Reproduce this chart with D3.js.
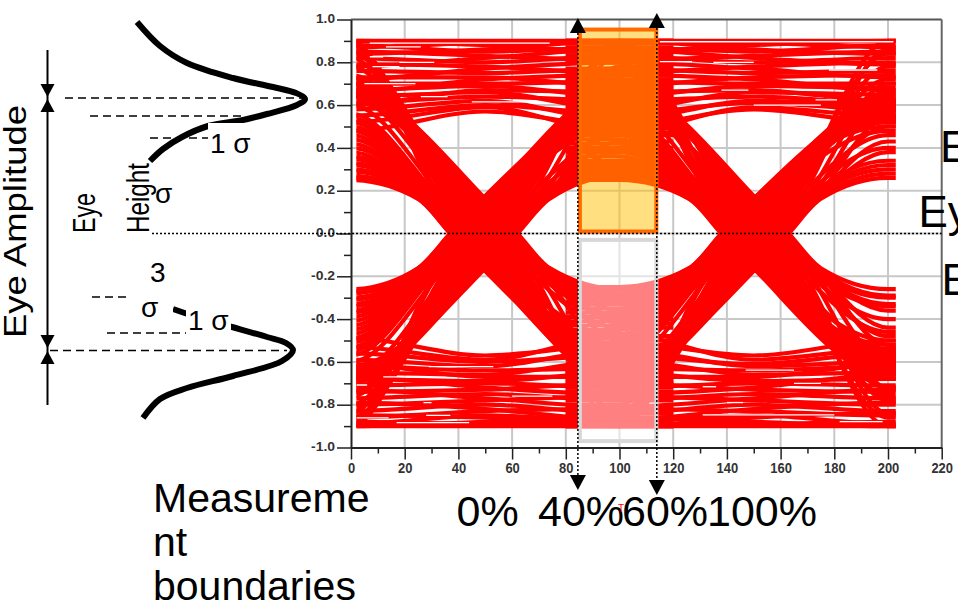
<!DOCTYPE html>
<html>
<head>
<meta charset="utf-8">
<script src="https://cdn.jsdelivr.net/npm/d3@7/dist/d3.min.js"></script>
<style>
  html, body { margin: 0; padding: 0; background: #ffffff; }
  svg { display: block; }
  text { font-family: "Liberation Sans", Arial, sans-serif; }
</style>
</head>
<body>
<svg id="chart" width="958" height="613"></svg>
<script>
// ---------- axis values ----------
const xMajorTicks = [0, 20, 40, 60, 80, 100, 120, 140, 160, 180, 200, 220];
const xMinorTicks = [10, 30, 50, 70, 90, 110, 130, 150, 170, 190, 210];
const yMajorTicks = [-1.0, -0.8, -0.6, -0.4, -0.2, 0.0, 0.2, 0.4, 0.6, 0.8, 1.0];
const yMinorTicks = [-0.9, -0.7, -0.5, -0.3, -0.1, 0.1, 0.3, 0.5, 0.7, 0.9];
const xGrid = [20, 40, 60, 80, 100, 120, 140, 160, 180, 200];
const yGrid = [-0.8, -0.6, -0.4, -0.2, 0.0, 0.2, 0.4, 0.6, 0.8];

// time window covered by the folded traces
const traceSpan = [2, 202.9];

// measurement window (40% .. 60% of the unit interval)
const measureBounds = [84.5, 113.9];
const upperBoxLevels = [0.0, 0.953];
const lowerBoxLevels = [-0.03, -0.97];

// ---------- eye traces ----------
// Bit centres sit at t = 0, 100, 200. Each edge segment runs from one bit centre to the next.
// Every edge passes zero with the same slew: edgeRate amplitude units per time unit,
// held for edgeHalf time units either side of the crossing.
const edgeRate = 0.0135;
const edgeHalf = 12;
// Transitions: [level at start bit, zero-crossing time, level at end bit]
const fallA = [
  [0.25, 37, -0.62], [0.26, 37, -0.56], [0.27, 38, -0.58], [0.29, 38, -0.64],
  [0.30, 38, -0.68], [0.32, 39, -0.70], [0.33, 39, -0.60], [0.35, 39, -0.54],
  [0.36, 40, -0.66], [0.38, 40, -0.62], [0.40, 41, -0.56], [0.42, 41, -0.68],
  [0.44, 42, -0.64], [0.46, 42, -0.58], [0.48, 43, -0.52], [0.50, 43, -0.66],
  [0.52, 44, -0.62], [0.54, 44, -0.56], [0.56, 45, -0.48], [0.90, 45, -0.60],
  [0.86, 46, -0.66], [0.60, 47, -0.70], [0.82, 48, -0.56], [0.88, 49, -0.74],
  [0.64, 50, -0.84], [0.78, 51, -0.90], [0.70, 52, -0.76], [0.84, 53, -0.44],
  [0.66, 54, -0.86], [0.74, 55, -0.38], [0.62, 56, -0.70], [0.72, 57, -0.33],
  [0.64, 58, -0.58], [0.70, 59, -0.29], [0.66, 60, -0.50], [0.64, 61, -0.36],
  [0.66, 62, -0.26], [0.68, 60, -0.42], [0.65, 59, -0.31], [0.69, 57, -0.40],
  [0.67, 61, -0.28]
];
const riseA = [
  [-0.26, 37, 0.60], [-0.27, 37, 0.56], [-0.28, 38, 0.64], [-0.30, 38, 0.62],
  [-0.31, 38, 0.56], [-0.33, 39, 0.68], [-0.34, 39, 0.66], [-0.36, 39, 0.54],
  [-0.37, 40, 0.58], [-0.39, 40, 0.60], [-0.41, 41, 0.62], [-0.43, 41, 0.66],
  [-0.45, 42, 0.54], [-0.47, 42, 0.56], [-0.49, 43, 0.66], [-0.51, 43, 0.64],
  [-0.53, 44, 0.50], [-0.55, 44, 0.55], [-0.57, 45, 0.60], [-0.88, 45, 0.56],
  [-0.84, 46, 0.64], [-0.60, 47, 0.68], [-0.90, 48, 0.58], [-0.80, 49, 0.72],
  [-0.66, 50, 0.86], [-0.76, 51, 0.90], [-0.86, 52, 0.78], [-0.70, 53, 0.46],
  [-0.82, 54, 0.84], [-0.68, 55, 0.40], [-0.74, 56, 0.70], [-0.64, 57, 0.34],
  [-0.72, 58, 0.60], [-0.66, 59, 0.30], [-0.62, 60, 0.52], [-0.68, 61, 0.38],
  [-0.64, 62, 0.27], [-0.67, 60, 0.43], [-0.65, 59, 0.32], [-0.70, 57, 0.49],
  [-0.63, 61, 0.29]
];
const fallB = [
  [0.25, 138, -0.60], [0.26, 138, -0.66], [0.28, 139, -0.64], [0.30, 139, -0.58],
  [0.31, 139, -0.56], [0.33, 140, -0.62], [0.34, 140, -0.66], [0.36, 140, -0.52],
  [0.38, 141, -0.58], [0.40, 141, -0.68], [0.42, 142, -0.62], [0.44, 142, -0.56],
  [0.46, 143, -0.54], [0.48, 143, -0.64], [0.50, 144, -0.64], [0.52, 144, -0.58],
  [0.54, 145, -0.50], [0.56, 145, -0.62], [0.58, 146, -0.60], [0.89, 146, -0.58],
  [0.85, 147, -0.68], [0.62, 148, -0.72], [0.80, 149, -0.54], [0.90, 150, -0.76],
  [0.66, 151, -0.86], [0.76, 152, -0.90], [0.72, 153, -0.78], [0.86, 154, -0.46],
  [0.64, 155, -0.84], [0.76, 156, -0.40], [0.60, 157, -0.72], [0.70, 158, -0.34],
  [0.66, 159, -0.60], [0.72, 160, -0.30], [0.64, 161, -0.52], [0.66, 162, -0.36],
  [0.68, 163, -0.26], [0.67, 161, -0.44], [0.65, 160, -0.33], [0.70, 158, -0.48],
  [0.66, 162, -0.29]
];
const riseB = [
  [-0.25, 138, 0.52], [-0.26, 138, 0.58], [-0.28, 139, 0.56], [-0.29, 139, 0.60],
  [-0.30, 139, 0.50], [-0.32, 140, 0.54], [-0.33, 140, 0.58], [-0.35, 140, 0.62],
  [-0.37, 141, 0.54], [-0.39, 141, 0.57], [-0.41, 142, 0.60], [-0.43, 142, 0.64],
  [-0.45, 143, 0.52], [-0.47, 143, 0.58], [-0.49, 144, 0.62], [-0.51, 144, 0.55],
  [-0.53, 145, 0.48], [-0.55, 145, 0.60], [-0.57, 146, 0.58], [-0.89, 146, 0.55],
  [-0.85, 147, 0.63], [-0.61, 148, 0.66], [-0.90, 149, 0.60], [-0.80, 150, 0.72],
  [-0.66, 151, 0.84], [-0.76, 152, 0.90], [-0.86, 153, 0.78], [-0.70, 154, 0.46],
  [-0.82, 155, 0.86], [-0.68, 156, 0.40], [-0.74, 157, 0.70], [-0.64, 158, 0.34],
  [-0.72, 159, 0.62], [-0.66, 160, 0.30], [-0.62, 161, 0.54], [-0.68, 162, 0.38],
  [-0.64, 163, 0.26], [-0.66, 161, 0.43], [-0.64, 160, 0.32], [-0.69, 158, 0.50],
  [-0.65, 162, 0.28]
];
// Steady bits: [level at start bit, level half-way, level at end bit]
const highA = [
  [0.48, 0.57, 0.50], [0.52, 0.59, 0.47], [0.55, 0.60, 0.56], [0.58, 0.62, 0.53],
  [0.61, 0.64, 0.62], [0.64, 0.66, 0.58], [0.60, 0.67, 0.66], [0.67, 0.69, 0.64],
  [0.70, 0.70, 0.71], [0.66, 0.72, 0.74], [0.73, 0.73, 0.69], [0.76, 0.75, 0.77],
  [0.72, 0.77, 0.80], [0.79, 0.78, 0.75], [0.82, 0.80, 0.83], [0.78, 0.82, 0.86],
  [0.85, 0.83, 0.81], [0.88, 0.85, 0.87], [0.84, 0.86, 0.90], [0.90, 0.88, 0.85],
  [0.87, 0.89, 0.89], [0.90, 0.90, 0.90]
];
const lowA = [
  [-0.49, -0.57, -0.52], [-0.53, -0.59, -0.48], [-0.56, -0.60, -0.57], [-0.59, -0.62, -0.54],
  [-0.62, -0.64, -0.63], [-0.65, -0.66, -0.59], [-0.61, -0.67, -0.67], [-0.68, -0.69, -0.65],
  [-0.71, -0.70, -0.72], [-0.67, -0.72, -0.75], [-0.74, -0.73, -0.70], [-0.77, -0.75, -0.78],
  [-0.73, -0.77, -0.81], [-0.80, -0.78, -0.76], [-0.83, -0.80, -0.84], [-0.79, -0.82, -0.87],
  [-0.86, -0.83, -0.82], [-0.89, -0.85, -0.88], [-0.85, -0.86, -0.90], [-0.90, -0.88, -0.86],
  [-0.88, -0.89, -0.89], [-0.90, -0.90, -0.90]
];
const highB = [
  [0.50, 0.58, 0.52], [0.47, 0.59, 0.55], [0.56, 0.61, 0.58], [0.53, 0.62, 0.60],
  [0.62, 0.64, 0.61], [0.58, 0.66, 0.65], [0.66, 0.67, 0.62], [0.64, 0.69, 0.68],
  [0.71, 0.70, 0.70], [0.74, 0.72, 0.67], [0.69, 0.73, 0.74], [0.77, 0.75, 0.76],
  [0.80, 0.77, 0.73], [0.75, 0.78, 0.80], [0.83, 0.80, 0.82], [0.86, 0.82, 0.79],
  [0.81, 0.83, 0.85], [0.87, 0.85, 0.88], [0.90, 0.86, 0.84], [0.85, 0.88, 0.90],
  [0.89, 0.89, 0.87], [0.90, 0.90, 0.90]
];
const lowB = [
  [-0.51, -0.57, -0.50], [-0.47, -0.59, -0.54], [-0.57, -0.61, -0.56], [-0.54, -0.62, -0.60],
  [-0.63, -0.64, -0.62], [-0.59, -0.66, -0.65], [-0.67, -0.67, -0.61], [-0.65, -0.69, -0.68],
  [-0.72, -0.70, -0.71], [-0.75, -0.72, -0.66], [-0.70, -0.73, -0.74], [-0.78, -0.75, -0.77],
  [-0.81, -0.77, -0.73], [-0.76, -0.78, -0.80], [-0.84, -0.80, -0.83], [-0.87, -0.82, -0.79],
  [-0.82, -0.83, -0.85], [-0.88, -0.85, -0.89], [-0.90, -0.86, -0.84], [-0.86, -0.88, -0.90],
  [-0.89, -0.89, -0.88], [-0.90, -0.90, -0.90]
];
// Unhit sample rows inside the settled levels: [from t, to t, level]
const levelGaps = [
  [7, 74, 0.89], [13, 26, 0.872], [7, 12, 0.826], [18, 31, 0.80], [8, 18, 0.78],
  [5, 24, 0.70], [26, 36, 0.64], [45, 70, 0.615], [115, 202, 0.896], [115, 127, 0.803],
  [135, 150, 0.80], [178, 196, 0.764], [138, 148, 0.67], [173, 181, 0.624], [150, 175, 0.60],
  [2, 6, -0.708], [12, 22, -0.67], [27, 30, -0.79], [28, 37, -0.85], [2, 14, -0.862],
  [17, 44, -0.884], [29, 53, -0.622], [131, 136, -0.716], [140, 146, -0.79],
  [131, 180, -0.848], [182, 198, -0.879], [147, 165, -0.638], [60, 75, -0.76], [165, 175, -0.70]
];

// ---------- annotation texts ----------
const percentLabels = ["0%", "40%", "60%", "100%"];
const boundaryLines = ["Measureme", "nt", "boundaries"];

// ---------- drawing ----------
const svg = d3.select("#chart");
const x = d3.scaleLinear().domain([0, 220]).range([351, 941.7]);
const y = d3.scaleLinear().domain([-1, 1]).range([447.5, 19.5]);

const defs = svg.append("defs");
defs.append("clipPath").attr("id", "traceClip")
  .append("rect")
  .attr("x", x(traceSpan[0])).attr("y", 0)
  .attr("width", x(traceSpan[1]) - x(traceSpan[0])).attr("height", 613);

// grid
const grid = svg.append("g").attr("stroke", "#c8c8c8").attr("stroke-width", 2);
grid.selectAll("line.vx").data(xGrid).join("line")
  .attr("x1", d => x(d)).attr("x2", d => x(d)).attr("y1", y(1)).attr("y2", y(-1));
grid.selectAll("line.hy").data(yGrid).join("line")
  .attr("x1", x(0)).attr("x2", x(220)).attr("y1", d => y(d)).attr("y2", d => y(d));

// traces
const line = d3.line().x(d => x(d[0])).y(d => y(d[1])).curve(d3.curveMonotoneX);
function edgeKnots(t0, e) {
  const dir = Math.sign(e[0]);          // +1 falling, -1 rising
  const v = edgeRate * edgeHalf * dir;
  return [[t0 - 20, e[0]], [t0, e[0]], [e[1] - edgeHalf, v], [e[1], 0],
          [e[1] + edgeHalf, -v], [t0 + 100, e[2]], [t0 + 120, e[2]]];
}
function steadyKnots(t0, s) {
  return [[t0 - 20, s[0]], [t0, s[0]], [t0 + 50, s[1]], [t0 + 100, s[2]], [t0 + 120, s[2]]];
}

const segments = [];
highA.forEach(s => segments.push(steadyKnots(0, s)));
lowA.forEach(s => segments.push(steadyKnots(0, s)));
highB.forEach(s => segments.push(steadyKnots(100, s)));
lowB.forEach(s => segments.push(steadyKnots(100, s)));
fallA.forEach(e => segments.push(edgeKnots(0, e)));
riseA.forEach(e => segments.push(edgeKnots(0, e)));
fallB.forEach(e => segments.push(edgeKnots(100, e)));
riseB.forEach(e => segments.push(edgeKnots(100, e)));

const traceLayer = svg.append("g").attr("clip-path", "url(#traceClip)");
traceLayer.selectAll("path").data(segments).join("path")
  .attr("d", line)
  .attr("fill", "none").attr("stroke", "#ff0000").attr("stroke-width", 4.2);
traceLayer.selectAll("line.gap").data(levelGaps).join("line")
  .attr("x1", d => x(d[0])).attr("x2", d => x(d[1]))
  .attr("y1", d => y(d[2])).attr("y2", d => y(d[2]))
  .attr("stroke", "#ffffff").attr("stroke-width", 1.3);

// measurement boxes
const bx0 = x(measureBounds[0]) + 2, bx1 = x(measureBounds[1]) - 0.5;
svg.append("rect")
  .attr("x", bx0).attr("y", y(upperBoxLevels[1]))
  .attr("width", bx1 - bx0).attr("height", y(upperBoxLevels[0]) - 2 - y(upperBoxLevels[1]))
  .attr("fill", "#ffc000").attr("fill-opacity", 0.5)
  .attr("stroke", "#ff6a00").attr("stroke-width", 4);
svg.append("rect")
  .attr("x", bx0).attr("y", y(lowerBoxLevels[0]))
  .attr("width", bx1 - bx0).attr("height", y(lowerBoxLevels[1]) - y(lowerBoxLevels[0]))
  .attr("fill", "#ffffff").attr("fill-opacity", 0.5)
  .attr("stroke", "#d8d8d8").attr("stroke-width", 4);

// frame
svg.append("line").attr("x1", x(0)).attr("x2", x(220)).attr("y1", y(1)).attr("y2", y(1))
  .attr("stroke", "#555").attr("stroke-width", 2);
svg.append("line").attr("x1", x(220)).attr("x2", x(220)).attr("y1", y(1)).attr("y2", y(-1))
  .attr("stroke", "#666").attr("stroke-width", 2);

// y axis
const yAxis = svg.append("g").attr("transform", `translate(${x(0)},0)`)
  .call(d3.axisLeft(y).tickValues(yMajorTicks).tickSize(14).tickSizeOuter(0)
    .tickFormat(d => d.toFixed(1)));
yAxis.select(".domain").attr("stroke", "#222").attr("stroke-width", 2);
yAxis.selectAll(".tick line").attr("stroke", "#222").attr("stroke-width", 1.5);
yAxis.selectAll(".tick text")
  .attr("x", -16).attr("dy", "0.25em")
  .attr("font-size", 12.5).attr("font-weight", "bold").attr("fill", "#333")
  .attr("font-family", "'Liberation Sans', Arial, sans-serif")
  .attr("textLength", d => d < 0 ? 24 : 19).attr("lengthAdjust", "spacingAndGlyphs");
svg.append("g").attr("transform", `translate(${x(0)},0)`)
  .call(d3.axisLeft(y).tickValues(yMinorTicks).tickSize(7).tickFormat(""))
  .call(g => g.select(".domain").remove())
  .selectAll(".tick line").attr("stroke", "#222").attr("stroke-width", 1.5);

// x axis
const xAxis = svg.append("g").attr("transform", `translate(0,${y(-1)})`)
  .call(d3.axisBottom(x).tickValues(xMajorTicks).tickSize(12).tickSizeOuter(0)
    .tickFormat(d3.format("d")));
xAxis.select(".domain").attr("stroke", "#222").attr("stroke-width", 2);
xAxis.selectAll(".tick line").attr("stroke", "#222").attr("stroke-width", 1.5);
xAxis.selectAll(".tick text")
  .attr("y", 15).attr("dy", "0.75em")
  .attr("font-size", 14).attr("font-weight", "bold").attr("fill", "#333")
  .attr("font-family", "'Liberation Sans', Arial, sans-serif")
  .attr("textLength", d => String(d).length * 7.2).attr("lengthAdjust", "spacingAndGlyphs");
svg.append("g").attr("transform", `translate(0,${y(-1)})`)
  .call(d3.axisBottom(x).tickValues(xMinorTicks).tickSize(6).tickFormat(""))
  .call(g => g.select(".domain").remove())
  .selectAll(".tick line").attr("stroke", "#222").attr("stroke-width", 1.5);

// zero reference line
svg.append("line").attr("x1", 152).attr("x2", x(220)).attr("y1", y(0)).attr("y2", y(0))
  .attr("stroke", "#000").attr("stroke-width", 1.5).attr("stroke-dasharray", "2,2");

// measurement boundary markers
const markerTops = [33, 28], markerBottoms = [475, 480];
measureBounds.forEach((b, i) => {
  const px = x(b);
  svg.append("line").attr("x1", px).attr("x2", px)
    .attr("y1", markerTops[i]).attr("y2", markerBottoms[i])
    .attr("stroke", "#000").attr("stroke-width", 1.5).attr("stroke-dasharray", "2,2");
  svg.append("path").attr("fill", "#000")
    .attr("d", `M${px - 8},${markerTops[i]}L${px + 8},${markerTops[i]}L${px},${markerTops[i] - 15}Z`);
  svg.append("path").attr("fill", "#000")
    .attr("d", `M${px - 8},${markerBottoms[i]}L${px + 8},${markerBottoms[i]}L${px},${markerBottoms[i] + 15}Z`);
});

// ---------- level distributions and their annotations (left side) ----------
const ann = svg.append("g");
const dashed = [[65, 305, 98], [90, 243, 116], [150, 208, 138], [92, 127, 297], [107, 187, 333], [50, 287, 350.5]];
dashed.forEach(d => ann.append("line").attr("x1", d[0]).attr("x2", d[1]).attr("y1", d[2]).attr("y2", d[2])
  .attr("stroke", "#000").attr("stroke-width", 1.5).attr("stroke-dasharray", "8,5"));

const curve = d3.line().curve(d3.curveCatmullRom.alpha(0.5));
const upperPdf = [[137, 22], [160, 46], [187, 63], [233, 78], [273, 87], [296, 93], [305, 99],
                  [297, 105], [267, 114], [243, 120], [208, 126], [182, 137], [163, 149], [150, 161]];
const lowerPdf = [[173, 309], [200, 318], [232, 327], [267, 337], [286, 343], [293, 350],
                  [282, 361], [233, 376], [187, 388], [160, 399], [143, 418]];
ann.append("path").attr("d", curve(upperPdf)).attr("fill", "none").attr("stroke", "#000").attr("stroke-width", 6);
ann.append("path").attr("d", curve(lowerPdf)).attr("fill", "none").attr("stroke", "#000").attr("stroke-width", 6);

// amplitude arrow
ann.append("line").attr("x1", 47.5).attr("x2", 47.5).attr("y1", 50).attr("y2", 405)
  .attr("stroke", "#000").attr("stroke-width", 2);
[[97, -1], [99, 1], [348, -1], [351, 1]].forEach(([tip, dir]) => {
  const base = tip + dir * 13;
  ann.append("path").attr("fill", "#000").attr("d", `M40.5,${base}L54.5,${base}L47.5,${tip}Z`);
});

// labels with white backing
function boxedText(txt, tx, ty, size, box) {
  if (box) ann.append("rect").attr("x", box[0]).attr("y", box[1]).attr("width", box[2]).attr("height", box[3]).attr("fill", "#fff");
  return ann.append("text").attr("x", tx).attr("y", ty).attr("font-size", size).attr("fill", "#000").text(txt);
}
boxedText("1 σ", 210, 153, 28, [208, 123, 50, 36]);
boxedText("σ", 155, 203, 28, null);
boxedText("3", 150, 282, 28, null);
boxedText("σ", 141, 317, 28, [138, 296, 35, 26]);
boxedText("1 σ", 188, 330, 28, [186, 300, 45, 36]);

ann.append("text").attr("transform", "translate(26,221.5) rotate(-90)")
  .attr("text-anchor", "middle").attr("font-size", 31).attr("textLength", 233).attr("lengthAdjust", "spacingAndGlyphs")
  .text("Eye Amplitude");
ann.append("text").attr("transform", "translate(95,233) rotate(-90)")
  .attr("font-size", 31).attr("textLength", 40).attr("lengthAdjust", "spacingAndGlyphs").text("Eye");
ann.append("text").attr("transform", "translate(149,233) rotate(-90)")
  .attr("font-size", 31).attr("textLength", 70).attr("lengthAdjust", "spacingAndGlyphs").text("Height");

// right-hand labels
[["E", 940, 162], ["Ey", 918.5, 227], ["E", 941.5, 295]].forEach(([t, tx, ty]) =>
  svg.append("text").attr("x", tx).attr("y", ty).attr("font-size", 44).attr("fill", "#000").text(t));

// percentage scale under the axis
const percentX = [456.5, 538, 622, 707];
percentLabels.forEach((t, i) =>
  svg.append("text").attr("x", percentX[i]).attr("y", 526).attr("font-size", 43).attr("fill", "#000").text(t));
svg.append("text").attr("x", 618).attr("y", 512).attr("font-size", 10).attr("fill", "#ff0000").text("T");

// measurement boundaries caption
const captionY = [512, 556, 600];
boundaryLines.forEach((t, i) =>
  svg.append("text").attr("x", 153).attr("y", captionY[i]).attr("font-size", 41).attr("fill", "#000").text(t));
</script>
</body>
</html>
